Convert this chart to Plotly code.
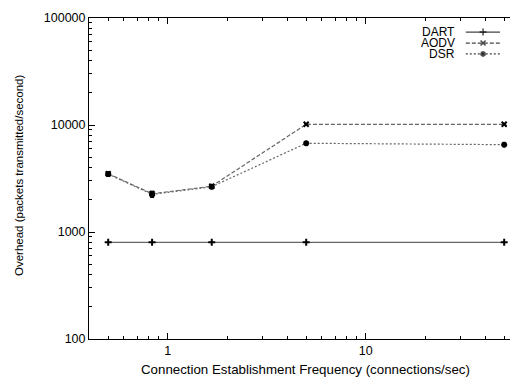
import plotly.graph_objects as go
import numpy as np

freq = [0.5, 0.833, 1.667, 5, 50]
dart = [800, 800, 800, 800, 800]
aodv = [3500, 2280, 2680, 10150, 10150]
dsr = [3480, 2250, 2650, 6750, 6550]
dsr_err = [60, 150, 60, 250, 120]
aodv_err = [60, 120, 60, 150, 120]

series = [("DART", dart, None, "solid", "cross-thin-open"),
          ("AODV", aodv, aodv_err, "4px,2px", "x-thin-open"),
          ("DSR", dsr, dsr_err, "2px,2px", "asterisk-open")]

font = "Liberation Sans, Arial, Helvetica, sans-serif"
fig = go.Figure()
for name, vals, err, dash, sym in series:
    fig.add_trace(go.Scatter(
        x=freq, y=vals, name=name, mode="lines+markers",
        line=dict(color="#666666", width=1.2, dash=dash),
        marker=dict(symbol=sym, size=5, color="black", line=dict(color="black", width=2)),
        error_y=(dict(type="data", array=err, color="black", thickness=1, width=2) if err else None),
        showlegend=False))

# manual gnuplot-style legend (text, then sample)
leg_y = [0.956, 0.922, 0.888]
for (name, vals, err, dash, sym), ly in zip(series, leg_y):
    fig.add_trace(go.Scatter(
        x=[0.895, 0.936, 0.976], y=[ly, ly, ly], xaxis="x3", yaxis="y3",
        mode="lines+markers",
        line=dict(color="#444444", width=1.2, dash=dash),
        marker=dict(symbol=sym, size=[0, 5, 0], color="black", line=dict(color="black", width=1.5)),
        showlegend=False, hoverinfo="skip"))
    fig.add_annotation(x=0.873, y=ly, xref="paper", yref="paper", text=name,
                       showarrow=False, xanchor="right", yanchor="middle",
                       font=dict(size=12, color="black", family=font))

xmin, xmax = np.log10(0.4), np.log10(0.4) + 421 / 198
x_minor = [v * 10 ** e for e in (-1, 0, 1) for v in range(2, 10) if 0.4 <= v * 10 ** e <= 54]
y_minor = [v * 10 ** e for e in (2, 3, 4) for v in range(2, 10)]

axis_common = dict(showgrid=False, zeroline=False, ticks="inside", linecolor="black",
                   linewidth=1, tickcolor="black", tickwidth=1,
                   tickfont=dict(size=12.5, color="black", family=font))

fig.update_layout(
    width=510, height=377, margin=dict(l=89, r=0, t=18, b=38),
    plot_bgcolor="white", paper_bgcolor="white",
    font=dict(family=font, color="black", size=12),
    xaxis=dict(type="log", range=[xmin, xmax], showline=True, tickvals=[1, 10],
               ticktext=["1", "10"], ticklen=6,
               minor=dict(tickvals=x_minor, ticks="inside", ticklen=3, tickcolor="black"),
               **axis_common),
    xaxis2=dict(type="log", range=[xmin, xmax], overlaying="x", side="top", anchor="y",
                showline=True, tickvals=[1, 10], showticklabels=False, ticklen=6,
                minor=dict(tickvals=x_minor, ticks="inside", ticklen=3, tickcolor="black"),
                **{k: v for k, v in axis_common.items() if k != "tickfont"}),
    yaxis=dict(type="log", range=[2, 5], showline=True,
               tickvals=[100, 1000, 10000, 100000],
               ticktext=["100", "1000", "10000", "100000"], ticklen=6,
               minor=dict(tickvals=y_minor, ticks="inside", ticklen=3, tickcolor="black"),
               **axis_common),
    xaxis3=dict(range=[0, 1], domain=[0, 1], anchor="y3", visible=False, overlaying="x"),
    yaxis3=dict(range=[0, 1], domain=[0, 1], anchor="x3", visible=False, overlaying="y"),
)
# dummy trace to activate top axis
fig.add_trace(go.Scatter(x=[1], y=[1000], xaxis="x2", mode="markers",
                         marker=dict(opacity=0), showlegend=False, hoverinfo="skip"))
fig.add_annotation(x=(305 - 89) / 421, y=(339 - 369) / 321, xref="paper", yref="paper",
                   text="Connection Establishment Frequency (connections/sec)",
                   showarrow=False, xanchor="center", yanchor="middle",
                   font=dict(size=13.3, color="black", family=font))
fig.add_annotation(x=(19 - 89) / 421, y=(339 - 175) / 321, xref="paper", yref="paper",
                   text="Overhead (packets transmitted/second)", textangle=-90,
                   showarrow=False, xanchor="center", yanchor="middle",
                   font=dict(size=11.5, color="black", family=font))
fig.write_html("out.html")
